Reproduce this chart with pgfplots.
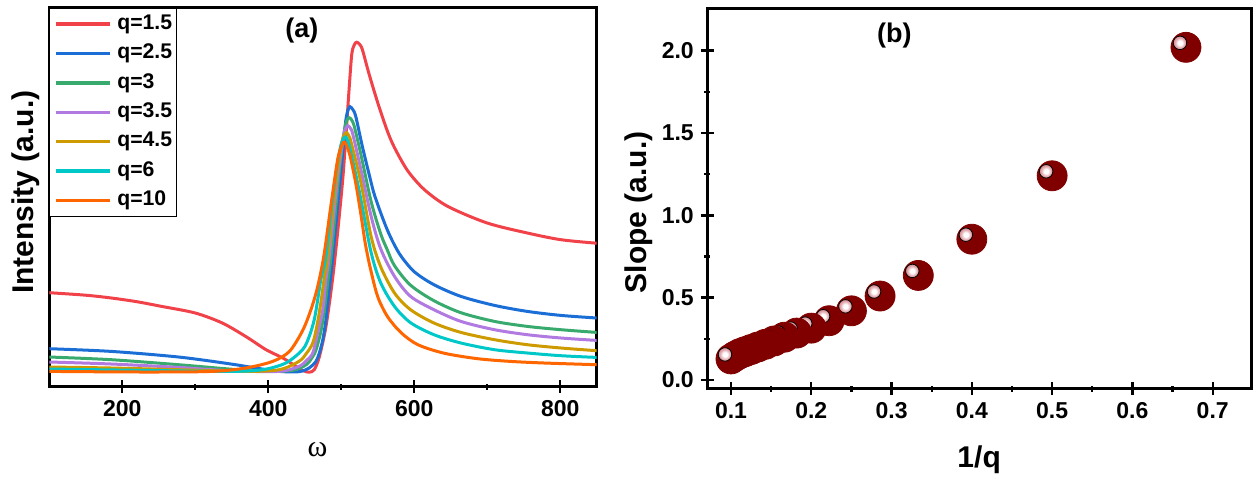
\documentclass[border=0pt]{standalone}
\usepackage{fontspec}
\setmainfont{Liberation Sans}
\newfontfamily\seriffont{Liberation Serif}
\usepackage{pgfplots}
\pgfplotsset{compat=1.18}
\definecolor{cqa}{RGB}{240,66,72}
\definecolor{cqb}{RGB}{28,110,215}
\definecolor{cqc}{RGB}{56,170,110}
\definecolor{cqd}{RGB}{176,122,225}
\definecolor{cqe}{RGB}{205,155,0}
\definecolor{cqf}{RGB}{0,200,200}
\definecolor{cqg}{RGB}{255,102,0}
\definecolor{darkred}{RGB}{128,0,0}
\definecolor{hlpink}{RGB}{228,172,178}
\pgfdeclareradialshading{ballhl}{\pgfpointorigin}{color(0bp)=(white); color(8bp)=(white); color(18bp)=(hlpink); color(28bp)=(hlpink!75!darkred); color(46bp)=(darkred); color(50bp)=(darkred)}
\pgfdeclareplotmark{shinyball}{%
  \fill[darkred] (0pt,0pt) circle[radius=\pgfplotmarksize];
  \shade[shading=ballhl] (-0.4*\pgfplotmarksize,0.3*\pgfplotmarksize) circle[radius=0.45*\pgfplotmarksize];
}
\pgfplotstableread{
x y
0.6667 2.02
0.5 1.24
0.4 0.855
0.3333 0.635
0.2857 0.51
0.25 0.42
0.2222 0.36
0.2 0.315
0.1818 0.285
0.1667 0.26
0.1538 0.237
0.1429 0.217
0.1333 0.2
0.125 0.185
0.1176 0.172
0.1111 0.16
0.1053 0.145
0.1 0.128
}\slopedata
\pgfplotsset{
  common/.style={
    scale only axis, anchor=south west,
    axis line style={line width=1.5pt},
    every tick/.style={black, line width=1.2pt},
    tick align=center, major tick length=6.5pt, minor tick length=3pt,
    xtick pos=left, ytick pos=left,
    tick label style={font=\bfseries\fontsize{11.5}{13}\selectfont},
    /pgf/number format/assume math mode=true,
    label style={font=\bfseries\fontsize{15}{18}\selectfont},
  }
}
\begin{document}
\begin{tikzpicture}
\useasboundingbox (0,0) rectangle (627pt,239.5pt);
\begin{axis}[common,
  at={(24.65pt,46.15pt)}, width=273.7pt, height=189.6pt,
  xmin=100, xmax=850, ymin=0, ymax=379.2,
  xtick={200,400,600,800}, minor xtick={300,500,700}, ytick=\empty,
  xlabel={\seriffont\mdseries\fontsize{15}{18}\selectfont ω},
  xlabel style={at={(axis description cs:0.49,-0.167)}, anchor=center},
  ylabel={Intensity (a.u.)},
  ylabel style={at={(axis description cs:-0.0426,0.513)}, anchor=center},
  legend style={at={(0,1)}, anchor=north west, draw=black, line width=0.6pt,
    font=\bfseries\fontsize{10.6}{12}\selectfont, inner xsep=2pt, inner ysep=3pt,
    row sep=4.7pt, column sep=3pt,
    nodes={inner sep=0pt, text height=7.6pt, text depth=2.4pt}},
  legend cell align=left,
  legend image code/.code={\draw[#1, line width=1.7pt] (0pt,0pt) -- (27pt,0pt);},
]
\addplot[cqa, line width=1.5pt, smooth] coordinates {(100,94)(150,91.5)(185,88.7)(220,85)(254,80.3)(300,73.7)(337,63.7)(369,50.3)(397,37)(420,28.7)(438,20.3)(448,16)(456,14.5)(463,17)(470,30)(479,60)(488,107)(495,154)(502,207)(506,247)(511,300)(514.5,333)(518,342)(521,344.5)(525,342.5)(529,337)(538,313)(550,284)(563,256)(573,239)(591,216)(614,197)(646,180.3)(700,163.7)(755,153.7)(801,147)(850,143.5)};
\addlegendentry{q=1.5}
\addplot[cqb, line width=1.5pt, smooth] coordinates {(100,38)(185,35.3)(277,29.7)(346,23)(383,18.7)(415,15.3)(442,15)(456,18.7)(465,25)(470,33.7)(475,48)(479,67)(484,100)(488,127)(495,180)(502,234)(506,265)(509,276)(512,280)(516,277)(520,270)(529,240)(540,207)(545,193)(554,174)(563,157)(572,143)(582,130.5)(600,115)(627,102)(664,90.3)(710,81.3)(755,75.3)(801,71.3)(850,68.7)};
\addlegendentry{q=2.5}
\addplot[cqc, line width=1.5pt, smooth] coordinates {(100,29.7)(185,27)(277,22)(346,17.7)(392,15.3)(433,16.3)(452,22)(460,29)(465.5,37)(472,55)(477,77)(482,107)(486,130)(492,175)(498,220)(504,255)(507.5,266)(510.5,269)(514,267)(518,260)(527,232)(541,185)(554,153)(563,137)(573,121)(595,101.5)(627,86)(664,74)(710,65.3)(755,60.3)(801,57)(850,54.3)};
\addlegendentry{q=3}
\addplot[cqd, line width=1.5pt, smooth] coordinates {(100,24.7)(185,22.7)(277,19.3)(346,16)(415,15.3)(442,20.3)(452,26)(461,33.7)(468,55)(474.7,77)(479,107)(483,127)(490,175)(496,215)(503,250)(506,258)(509,261)(513,258)(516,252)(527,217)(541,170.3)(554,138)(573,110.3)(595,90.3)(627,77)(664,65.3)(710,57)(755,52)(801,48.7)(850,46.3)};
\addlegendentry{q=3.5}
\addplot[cqe, line width=1.5pt, smooth] coordinates {(100,19.7)(185,18.7)(277,17)(369,15.3)(415,17)(442,25.3)(452,33)(461,43.7)(467,62)(472,83.7)(477,110)(481,127)(488,175)(494,212)(501,245)(504.5,252)(507.5,254)(511,250)(514,243)(527,204)(541,150)(554,120)(573,93.7)(595,77)(627,63.7)(664,54.3)(710,47)(755,42)(801,38.7)(850,36)};
\addlegendentry{q=4.5}
\addplot[cqf, line width=1.5pt, smooth] coordinates {(100,17.7)(231,16.3)(346,15.3)(392,17)(424,23.7)(447,37)(456,50)(463,67)(468,88)(472,107)(479,130)(486,175)(493,215)(499,240)(503,248)(506,249.7)(509,246)(512,238)(520,212)(527,187)(541,134)(554,104)(573,80.3)(595,64)(627,52)(664,43.7)(710,37)(755,33.7)(801,31)(850,29.3)};
\addlegendentry{q=6}
\addplot[cqg, line width=1.5pt, smooth] coordinates {(100,15.3)(231,14.7)(323,15.3)(369,18.7)(406,25.3)(429,35.3)(447,56)(458,76)(467,98)(476,130)(485.6,180)(494.8,226)(500,240)(503,244.3)(506,243)(510,236)(513,228)(520,203)(527,172)(533,143)(540,118)(550,90)(563.5,70)(582,54)(605,42)(641,33.5)(687,28)(732,25.3)(778,23.7)(850,22)};
\addlegendentry{q=10}
\node[font=\bfseries\fontsize{13.5}{16}\selectfont] at (axis cs:446,356.5) {(a)};
\end{axis}
\begin{axis}[common,
  at={(353.65pt,45.25pt)}, width=271.85pt, height=190.1pt,
  xmin=0.0705, xmax=0.7477, ymin=-0.0516, ymax=2.257,
  xtick={0.1,0.2,0.3,0.4,0.5,0.6,0.7},
  minor xtick={0.15,0.25,0.35,0.45,0.55,0.65},
  ytick={0,0.5,1,1.5,2}, minor ytick={0.25,0.75,1.25,1.75},
  xticklabel style={/pgf/number format/.cd, fixed, fixed zerofill, precision=1},
  yticklabel style={/pgf/number format/.cd, fixed, fixed zerofill, precision=1},
  xlabel={1/q},
  xlabel style={at={(axis description cs:0.5,-0.188)}, anchor=center},
  ylabel={Slope (a.u.)},
  ylabel style={at={(axis description cs:-0.1265,0.463)}, anchor=center},
]
\addplot[only marks, mark=shinyball, mark size=7.5pt] table[x=x, y=y] {\slopedata};
\node[font=\bfseries\fontsize{13.5}{16}\selectfont] at (axis cs:0.3036,2.09) {(b)};
\end{axis}
\end{tikzpicture}
\end{document}
